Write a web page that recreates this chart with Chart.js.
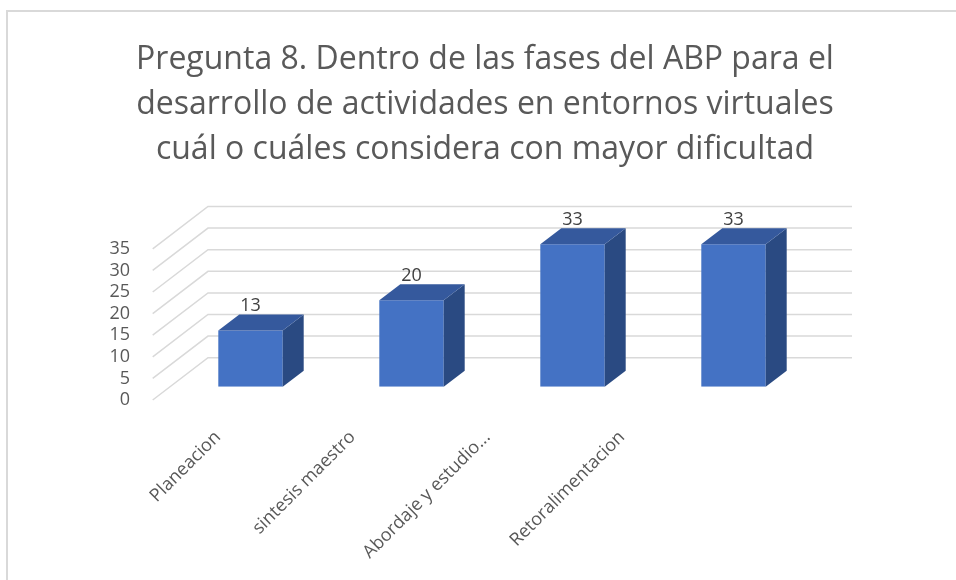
<!DOCTYPE html>
<html>
<head>
<meta charset="utf-8">
<script src="https://cdn.jsdelivr.net/npm/chart.js@4/dist/chart.umd.min.js"></script>
<style>
  html, body { margin: 0; padding: 0; background: #fff; overflow: hidden; }
  #wrap { position: relative; width: 956px; height: 580px; }
  #frame { position: absolute; left: 6px; top: 10px; width: 1000px; height: 1000px;
           border: 2px solid #d9d9d9; box-sizing: border-box; }
  canvas { position: absolute; left: 0; top: 0; }
</style>
</head>
<body>
<div id="wrap">
  <div id="frame"></div>
  <canvas id="chart" width="956" height="580"></canvas>
</div>
<script>
const categories = ['Planeacion', 'sintesis maestro', 'Abordaje y estudio...', 'Retoralimentacion'];
const values = [13, 20, 33, 33];
const yTicks = [0, 5, 10, 15, 20, 25, 30, 35];
const titleLines = [
  'Pregunta 8. Dentro de las fases del ABP para el',
  'desarrollo de actividades en entornos virtuales',
  'cuál o cuáles considera con mayor dificultad'
];

// fake 3d offsets (pixels)
const barDepth = { dx: 21, dy: -16 };
const wallBack = { dx: 38, dy: -29 };
const wallFront = { dx: -17.3, dy: 13.3 };

const frontColor = '#4472c4';
const topColor = '#35599d';
const sideColor = '#2a4a82';

const box3d = {
  id: 'box3d',
  beforeDatasetsDraw(chart) {
    const { ctx, chartArea: a, scales: { y } } = chart;
    ctx.save();
    ctx.strokeStyle = '#d9d9d9';
    ctx.lineWidth = 1.5;
    y.ticks.forEach(t => {
      const py = y.getPixelForValue(t.value);
      ctx.beginPath();
      ctx.moveTo(a.left + wallFront.dx, py + wallFront.dy);
      ctx.lineTo(a.left + wallBack.dx, py + wallBack.dy);
      ctx.lineTo(a.right + wallBack.dx, py + wallBack.dy);
      ctx.stroke();
    });
    ctx.restore();
  },
  afterDatasetsDraw(chart) {
    const ctx = chart.ctx;
    const meta = chart.getDatasetMeta(0);
    ctx.save();
    meta.data.forEach((bar, i) => {
      const { x, y, base, width } = bar.getProps(['x', 'y', 'base', 'width'], true);
      const l = x - width / 2, r = x + width / 2;
      // side face
      ctx.fillStyle = sideColor;
      ctx.beginPath();
      ctx.moveTo(r, y);
      ctx.lineTo(r + barDepth.dx, y + barDepth.dy);
      ctx.lineTo(r + barDepth.dx, base + barDepth.dy);
      ctx.lineTo(r, base);
      ctx.closePath();
      ctx.fill();
      // top face
      ctx.fillStyle = topColor;
      ctx.beginPath();
      ctx.moveTo(l, y);
      ctx.lineTo(r, y);
      ctx.lineTo(r + barDepth.dx, y + barDepth.dy);
      ctx.lineTo(l + barDepth.dx, y + barDepth.dy);
      ctx.closePath();
      ctx.fill();
      // value label
      ctx.fillStyle = '#404040';
      ctx.font = '18px "Open Sans"';
      ctx.textAlign = 'center';
      ctx.textBaseline = 'middle';
      ctx.fillText(String(values[i]), x, y - 24.5);
    });
    ctx.restore();
  }
};

new Chart(document.getElementById('chart'), {
  type: 'bar',
  data: {
    labels: categories,
    datasets: [{
      data: values,
      backgroundColor: frontColor,
      borderWidth: 0,
      categoryPercentage: 0.8,
      barPercentage: 0.5
    }]
  },
  options: {
    responsive: false,
    animation: false,
    events: [],
    layout: { padding: { left: 100, right: 86, top: 0, bottom: 0 } },
    plugins: {
      legend: { display: false },
      tooltip: { enabled: false },
      title: {
        display: true,
        text: titleLines,
        color: '#595959',
        font: { family: 'Open Sans', size: 32, weight: 'normal', lineHeight: '45px' },
        padding: { top: 37.5, bottom: 63 }
      }
    },
    scales: {
      x: { display: false },
      // label axis, spaced like the projected floor edge of the 3d chart
      xl: {
        type: 'linear',
        position: 'bottom',
        offset: false,
        min: -0.356,
        max: 4.425,
        afterBuildTicks: axis => { axis.ticks = categories.map((c, i) => ({ value: i })); },
        afterFit: axis => { axis.height = 193.3; },
        grid: { display: false, drawTicks: false },
        border: { display: false },
        ticks: {
          autoSkip: false,
          minRotation: 45,
          maxRotation: 45,
          padding: 40,
          color: '#595959',
          font: { family: 'Open Sans', size: 18 },
          callback: v => categories[v]
        }
      },
      y: {
        min: 0,
        max: 35,
        afterBuildTicks: axis => { axis.ticks = yTicks.map(v => ({ value: v })); },
        afterFit: axis => { axis.width = 70; },
        grid: { display: false, drawTicks: false },
        border: { display: false },
        ticks: {
          autoSkip: false,
          padding: 40,
          labelOffset: 13.3,
          color: '#595959',
          font: { family: 'Open Sans', size: 18 }
        }
      },
      // empty right gutter (room for the 3d back wall), keeps the title centred as in the original
      yr: {
        position: 'right',
        afterFit: axis => { axis.width = 56; },
        grid: { display: false, drawTicks: false },
        border: { display: false },
        ticks: { display: false }
      }
    }
  },
  plugins: [box3d]
});
</script>
</body>
</html>
